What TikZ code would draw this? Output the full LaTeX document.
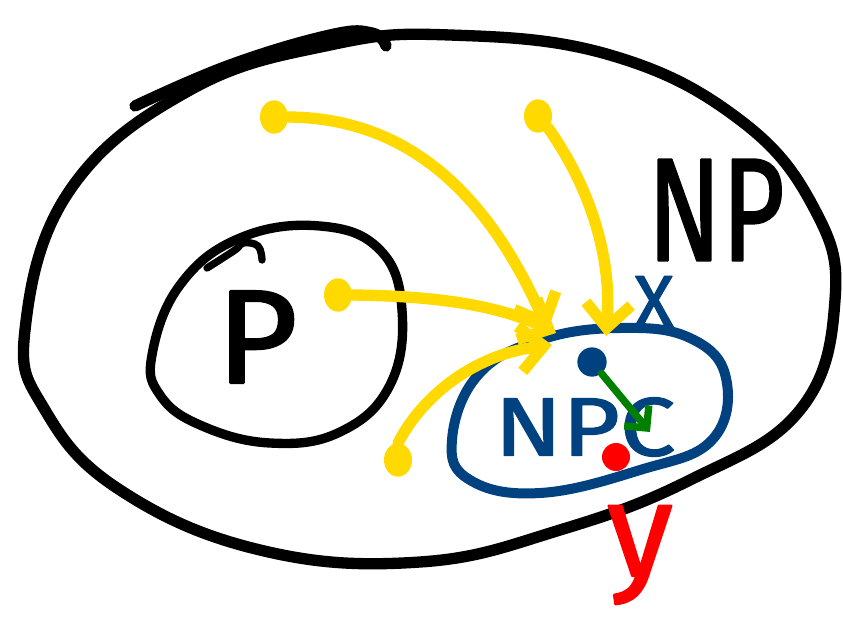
\documentclass[tikz,border=0pt]{standalone}
\usepackage{fontspec}
\setmainfont{Fira Sans}
\newfontfamily\handfont{Fira Sans}[FakeBold=1.6]
\usetikzlibrary{arrows.meta,shapes.geometric}
\definecolor{npyellow}{RGB}{255,217,0}
\definecolor{npblue}{RGB}{0,66,128}
\definecolor{npgreen}{RGB}{0,128,0}
\definecolor{npred}{RGB}{255,0,0}
\begin{document}
\begin{tikzpicture}[x=0.75pt,y=-0.75pt,line cap=round,line join=round,
  blackpen/.style={draw=black,line width=8.5pt},
  bluepen/.style={draw=npblue,line width=7.5pt},
  ydot/.style={ellipse,fill=npyellow,inner sep=0pt,minimum width=21pt,minimum height=25pt},
  yarrow/.style={draw=npyellow,line width=8.5pt,
    -{Straight Barb[length=18pt,width=34pt]}},
  garrow/.style={draw=npgreen,line width=5.5pt,
    -{Straight Barb[length=12pt,width=24pt]}},
  hand/.style={inner sep=0pt,anchor=center}]
\useasboundingbox (0,0) rectangle (843,632);

% NP: the outer set
\draw[blackpen] plot[smooth cycle,tension=0.7] coordinates {
  (25,330) (70,190) (190,90) (330,45) (450,35) (610,55) (740,120)
  (815,210) (835,300) (800,410) (690,480) (560,530) (420,562)
  (260,550) (120,490) (45,410)};
\draw[blackpen] plot[smooth,tension=0.7] coordinates {
  (135,106) (230,65) (330,35) (372,33) (386,46)};
\node[hand,font=\handfont\fontsize{110}{110}\selectfont] (np) at (716,210)
  {\scalebox{0.74}[1]{NP}};

% P: the inner set
\draw[line width=7pt] plot[smooth cycle,tension=0.7] coordinates {
  (152,355) (180,285) (240,238) (320,226) (380,250) (402,310)
  (390,385) (340,432) (270,443) (200,425) (160,395)};
\draw[line width=5.5pt] plot[smooth,tension=0.7] coordinates {
  (207,268) (235,250) (243,243) (258,246) (262,260)};
\node[hand,font=\handfont\fontsize{100}{100}\selectfont] (p) at (257,337)
  {\scalebox{1.05}[1]{P}};

% NPC: the complete problems
\draw[bluepen] plot[smooth cycle,tension=0.7] coordinates {
  (452,440) (478,375) (540,340) (620,328) (690,338) (726,378)
  (712,440) (640,470) (540,493) (470,480)};
\node[hand,text=npblue,font=\handfont\fontsize{62}{62}\selectfont] (npc) at (585,427)
  {\scalebox{1.2}[1]{NPC}};
\node[hand,text=npblue,font=\handfont\fontsize{56}{56}\selectfont] (x) at (654,302) {X};
\node[circle,fill=npblue,inner sep=0pt,minimum size=22pt] (bdot) at (592,362) {};
\node[circle,fill=npred,inner sep=0pt,minimum size=21pt] (rdot) at (616,457) {};
\node[hand,text=npred,font=\handfont\fontsize{100}{100}\selectfont] (y) at (640,555) {y};

% reduction from the blue instance
\coordinate (gtip) at (650,432);
\draw[garrow] (bdot) -- (gtip);

% reductions from the other problems in NP
\node[ydot] (da) at (274,117) {};
\node[ydot] (db) at (538,116) {};
\node[ydot] (dc) at (338,295) {};
\node[ydot] (dd) at (398,460) {};
\coordinate (ta) at (548,330);
\coordinate (tb) at (606,336);
\coordinate (tc) at (556,333);
\coordinate (td) at (552,345);
\draw[yarrow] (da.east) .. controls (420,118) and (495,210) .. (ta);
\draw[yarrow] (db.south east) .. controls (592,190) and (612,260) .. (tb);
\draw[yarrow] (dc.east) .. controls (440,296) and (500,306) .. (tc);
\draw[yarrow] (dd.north) .. controls (420,400) and (470,355) .. (td);
\end{tikzpicture}
\end{document}
